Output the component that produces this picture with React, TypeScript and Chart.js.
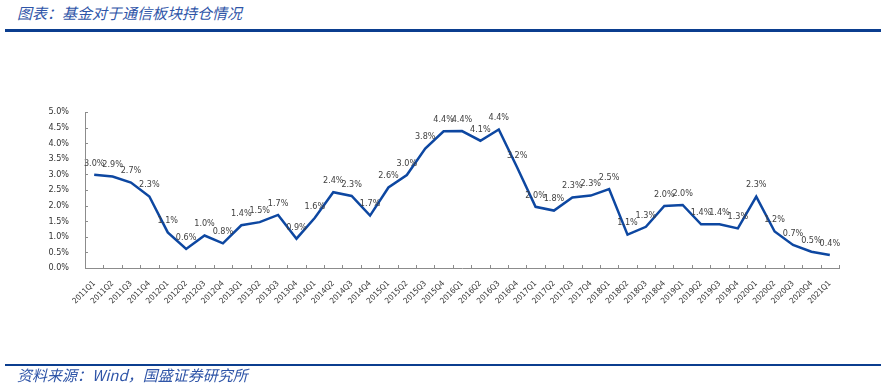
import React, { useEffect, useRef } from "react";
import { Chart, registerables } from "chart.js";

Chart.register(...registerables);

const TITLE = "图表：基金对于通信板块持仓情况";
const SOURCE = "资料来源：Wind，国盛证券研究所";

const categories = [
  "2011Q1", "2011Q2", "2011Q3", "2011Q4",
  "2012Q1", "2012Q2", "2012Q3", "2012Q4",
  "2013Q1", "2013Q2", "2013Q3", "2013Q4",
  "2014Q1", "2014Q2", "2014Q3", "2014Q4",
  "2015Q1", "2015Q2", "2015Q3", "2015Q4",
  "2016Q1", "2016Q2", "2016Q3", "2016Q4",
  "2017Q1", "2017Q2", "2017Q3", "2017Q4",
  "2018Q1", "2018Q2", "2018Q3", "2018Q4",
  "2019Q1", "2019Q2", "2019Q3", "2019Q4",
  "2020Q1", "2020Q2", "2020Q3", "2020Q4",
  "2021Q1",
];

// percent of holdings
const holdings = [
  2.99, 2.93, 2.74, 2.29,
  1.14, 0.61, 1.04, 0.79,
  1.37, 1.47, 1.70, 0.94,
  1.61, 2.43, 2.31, 1.68,
  2.58, 2.98, 3.83, 4.38,
  4.39, 4.08, 4.44, 3.22,
  1.96, 1.84, 2.26, 2.32,
  2.53, 1.07, 1.32, 1.99,
  2.02, 1.40, 1.40, 1.27,
  2.29, 1.17, 0.74, 0.52,
  0.42,
];

const Y_MIN = 0;
const Y_MAX = 5;
const Y_STEP = 0.5;

const LABEL_FONT = "9px 'DejaVu Sans Condensed', 'DejaVu Sans', sans-serif";

export default function App() {
  const ref = useRef<HTMLCanvasElement | null>(null);

  useEffect(() => {
    const canvas = ref.current;
    if (!canvas) return;

    const innerTicks = {
      id: "innerTicks",
      afterDraw(chart: any) {
        const ctx = chart.ctx;
        const xs = chart.scales.x;
        const ys = chart.scales.y;
        ctx.save();
        ctx.strokeStyle = "#8c8c8c";
        ctx.lineWidth = 1;
        const n = categories.length;
        const step = (xs.right - xs.left) / n;
        ctx.beginPath();
        for (let i = 0; i <= n; i++) {
          const x = Math.round(xs.left + i * step) + 0.5;
          ctx.moveTo(x, ys.bottom);
          ctx.lineTo(x, ys.bottom - 3);
        }
        for (const t of ys.ticks) {
          const y = Math.round(ys.getPixelForValue(t.value)) + 0.5;
          ctx.moveTo(xs.left, y);
          ctx.lineTo(xs.left + 3, y);
        }
        ctx.stroke();
        ctx.restore();
      },
    };

    const dataLabels = {
      id: "dataLabels",
      afterDatasetsDraw(chart: any) {
        const ctx = chart.ctx;
        const meta = chart.getDatasetMeta(0);
        ctx.save();
        ctx.font = LABEL_FONT;
        ctx.fillStyle = "#404040";
        ctx.textAlign = "center";
        ctx.textBaseline = "bottom";
        meta.data.forEach((pt: any, i: number) => {
          ctx.fillText(holdings[i].toFixed(1) + "%", pt.x, pt.y - 7);
        });
        ctx.restore();
      },
    };

    const chart = new Chart(canvas, {
      type: "line",
      data: {
        labels: categories,
        datasets: [
          {
            data: holdings,
            borderColor: "#0d47a1",
            borderWidth: 2.5,
            pointRadius: 0,
            tension: 0,
            fill: false,
          },
        ],
      },
      options: {
        animation: false,
        responsive: false,
        layout: { padding: { left: 0, top: 112, right: 47, bottom: 0 } },
        plugins: {
          legend: { display: false },
          tooltip: { enabled: false },
          title: { display: false },
        },
        scales: {
          x: {
            type: "category",
            offset: true,
            grid: { display: false, offset: true },
            border: { display: true, color: "#8c8c8c", width: 1 },
            ticks: {
              autoSkip: false,
              minRotation: 45,
              maxRotation: 45,
              padding: 3,
              color: "#333333",
              font: { family: "'DejaVu Sans Condensed', 'DejaVu Sans', sans-serif", size: 8 },
            },
            afterFit(scale: any) {
              scale.height = 120;
            },
          },
          y: {
            min: Y_MIN,
            max: Y_MAX,
            grid: { display: false },
            border: { display: true, color: "#8c8c8c", width: 1 },
            ticks: {
              stepSize: Y_STEP,
              padding: 8,
              color: "#333333",
              font: { family: "'DejaVu Sans Condensed', 'DejaVu Sans', sans-serif", size: 9 },
              callback: (v: any) => Number(v).toFixed(1) + "%",
            },
            afterFit(scale: any) {
              scale.width = 85;
            },
          },
        },
      },
      plugins: [innerTicks, dataLabels],
    });

    return () => chart.destroy();
  }, []);

  const textStyle: React.CSSProperties = {
    position: "absolute",
    fontFamily: "'Noto Sans CJK SC', sans-serif",
    fontStyle: "italic",
    color: "#2f55a8",
    fontSize: 15,
    lineHeight: "18px",
    whiteSpace: "nowrap",
  };

  return (
    <div
      style={{
        position: "absolute",
        left: 0,
        top: 0,
        width: 886,
        height: 388,
        background: "#ffffff",
        overflow: "hidden",
      }}
    >
      <div style={{ ...textStyle, left: 17, top: 4 }}>{TITLE}</div>
      <div
        style={{
          position: "absolute",
          left: 5,
          top: 29,
          width: 876,
          height: 3,
          background: "#0b3e8f",
        }}
      />
      <canvas
        ref={ref}
        width={886}
        height={388}
        style={{ position: "absolute", left: 0, top: 0, width: 886, height: 388 }}
      />
      <div
        style={{
          position: "absolute",
          left: 5,
          top: 364,
          width: 876,
          height: 2,
          background: "#0b3e8f",
        }}
      />
      <div style={{ ...textStyle, left: 17, top: 366 }}>{SOURCE}</div>
    </div>
  );
}
